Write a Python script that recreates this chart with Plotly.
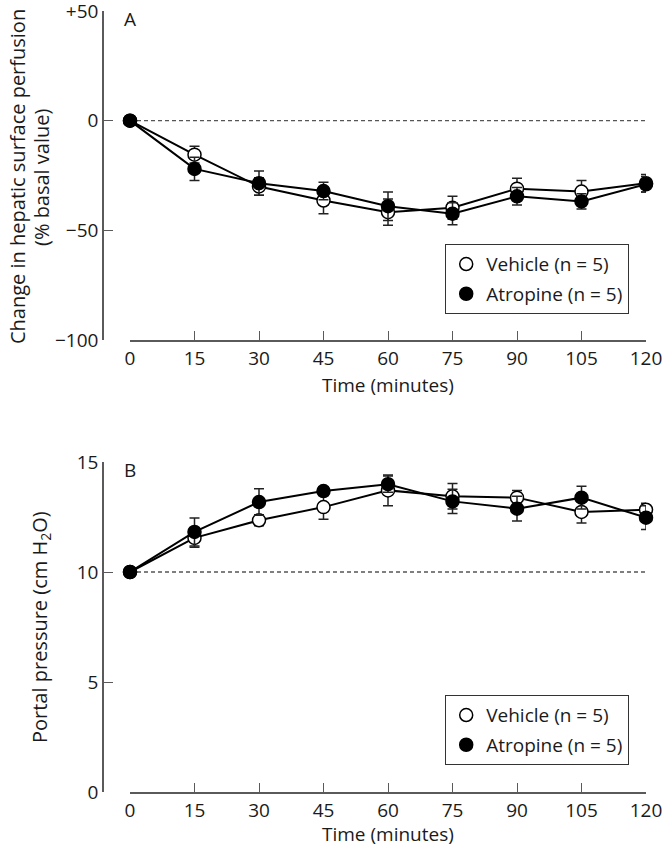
import plotly.graph_objects as go

# ---- data ----
times = [0, 15, 30, 45, 60, 75, 90, 105, 120]

vehicle_a = [0, -15.5, -30, -36.4, -41.7, -39.7, -31, -32.3, -28.5]
vehicle_a_err = [0, 3.8, 4, 6, 6, 5.2, 4.8, 5, 4]
atropine_a = [0, -22, -28.5, -32.1, -39, -42.4, -34.5, -36.8, -29]
atropine_a_err = [0, 5.3, 5.5, 4, 6.5, 5, 4, 3.5, 3.5]

vehicle_b = [10, 11.55, 12.35, 12.95, 13.71, 13.44, 13.38, 12.73, 12.83]
vehicle_b_err = [0, 0.43, 0.25, 0.55, 0.7, 0.58, 0.33, 0.5, 0.3]
atropine_b = [10, 11.82, 13.18, 13.68, 13.99, 13.21, 12.88, 13.38, 12.47]
atropine_b_err = [0, 0.64, 0.6, 0.2, 0.37, 0.55, 0.56, 0.52, 0.54]

baseline_a = 0
baseline_b = 10

a_ticks = [-100, -50, 0, 50]
a_ticktext = ["\u2212100", "\u221250", "0", "+50"]
b_ticks = [0, 5, 10, 15]
b_ticktext = ["0", "5", "10", "15"]

series_names = ["Vehicle (n = 5)", "Atropine (n = 5)"]

# ---- styling ----
W, H = 663, 853
FONT = "'Open Sans', Lato, sans-serif"
AXC = "#5a5a5a"
TXT = "#1a1a1a"
FS = 19

def px_x(p):
    return p / W

def px_y(p):
    return 1 - p / H

fig = go.Figure()

def add_series(x, y, err, filled, xa, ya):
    fig.add_trace(go.Scatter(
        x=x, y=y, mode="lines+markers", xaxis=xa, yaxis=ya,
        showlegend=False, cliponaxis=False,
        line=dict(color="black", width=2),
        marker=dict(symbol="circle", size=13,
                    color="black" if filled else "white",
                    line=dict(color="black", width=1.5)),
        error_y=dict(type="data", array=err, visible=True,
                     color="#222222", thickness=1.5, width=5),
    ))

add_series(times, vehicle_a, vehicle_a_err, False, "x", "y")
add_series(times, atropine_a, atropine_a_err, True, "x", "y")
add_series(times, vehicle_b, vehicle_b_err, False, "x2", "y2")
add_series(times, atropine_b, atropine_b_err, True, "x2", "y2")

# legend-only entries
for lg, xa, ya in [("legend", "x", "y"), ("legend2", "x2", "y2")]:
    for i, name in enumerate(series_names):
        filled = i == 1
        fig.add_trace(go.Scatter(
            x=[None], y=[None], mode="markers", name=name, xaxis=xa, yaxis=ya,
            legend=lg, legendgroup=f"{lg}{i}",
            marker=dict(symbol="circle", size=13,
                        color="black" if filled else "white",
                        line=dict(color="black", width=1.5)),
        ))

# dashed reference lines
for xr, yr, base in [("x", "y", baseline_a), ("x2", "y2", baseline_b)]:
    fig.add_shape(type="line", xref=xr, yref=yr, x0=times[0], x1=times[-1],
                  y0=base, y1=base, layer="below",
                  line=dict(color="#555555", width=1.3, dash="4px,3px"))

xdom = [px_x(130), px_x(646)]
common_x = dict(range=[0, 120], domain=xdom, tickvals=times, automargin=False,
                ticks="inside", ticklen=9, tickwidth=1.3, tickcolor=AXC,
                showline=True, linecolor=AXC, linewidth=1.5,
                showgrid=False, zeroline=False, ticklabeloverflow="allow",
                tickfont=dict(family=FONT, size=FS, color=TXT))
common_y = dict(anchor="free", position=px_x(103), automargin=False,
                ticks="inside", ticklen=9, tickwidth=1.3, tickcolor=AXC,
                showline=True, linecolor=AXC, linewidth=1.5,
                showgrid=False, zeroline=False, ticklabeloverflow="allow",
                tickfont=dict(family=FONT, size=FS, color=TXT))

legend_common = dict(x=px_x(445), xanchor="left", yanchor="bottom",
                     bgcolor="white", bordercolor="#333333", borderwidth=1.2,
                     font=dict(family=FONT, size=FS, color=TXT),
                     traceorder="grouped", tracegroupgap=2,
                     itemsizing="trace")

fig.update_layout(
    width=W, height=H,
    margin=dict(l=0, r=0, t=0, b=0, autoexpand=False),
    paper_bgcolor="white", plot_bgcolor="white",
    font=dict(family=FONT, size=FS, color=TXT),
    xaxis=dict(anchor="y", **common_x),
    yaxis=dict(range=[-100, 50], domain=[px_y(340), px_y(11)],
               tickvals=a_ticks, ticktext=a_ticktext, **common_y),
    xaxis2=dict(anchor="y2", **common_x),
    yaxis2=dict(range=[0, 15], domain=[px_y(792), px_y(462)],
                tickvals=b_ticks, ticktext=b_ticktext, **common_y),
    legend=dict(y=px_y(314), **legend_common),
    legend2=dict(y=px_y(765), **legend_common),
)

ann = []
def add_text(text, x, y, angle=0, size=FS):
    ann.append(dict(text=text, x=px_x(x), y=px_y(y), xref="paper", yref="paper",
                    showarrow=False, textangle=angle, xanchor="center", yanchor="middle",
                    font=dict(family=FONT, size=size, color=TXT)))

add_text("A", 130, 19)
add_text("B", 130, 470)
add_text("Time (minutes)", 388, 385)
add_text("Time (minutes)", 388, 834)
add_text("Change in hepatic surface perfusion", 17, 177, angle=-90, size=20)
add_text("(% basal value)", 41, 177, angle=-90, size=20)
add_text("Portal pressure (cm H<sub>2</sub>O)", 40, 627, angle=-90, size=20)
fig.update_layout(annotations=ann)

fig.write_html("out.html", config={"displayModeBar": False},
               post_script="document.body.style.margin='0';document.body.style.padding='0';")
